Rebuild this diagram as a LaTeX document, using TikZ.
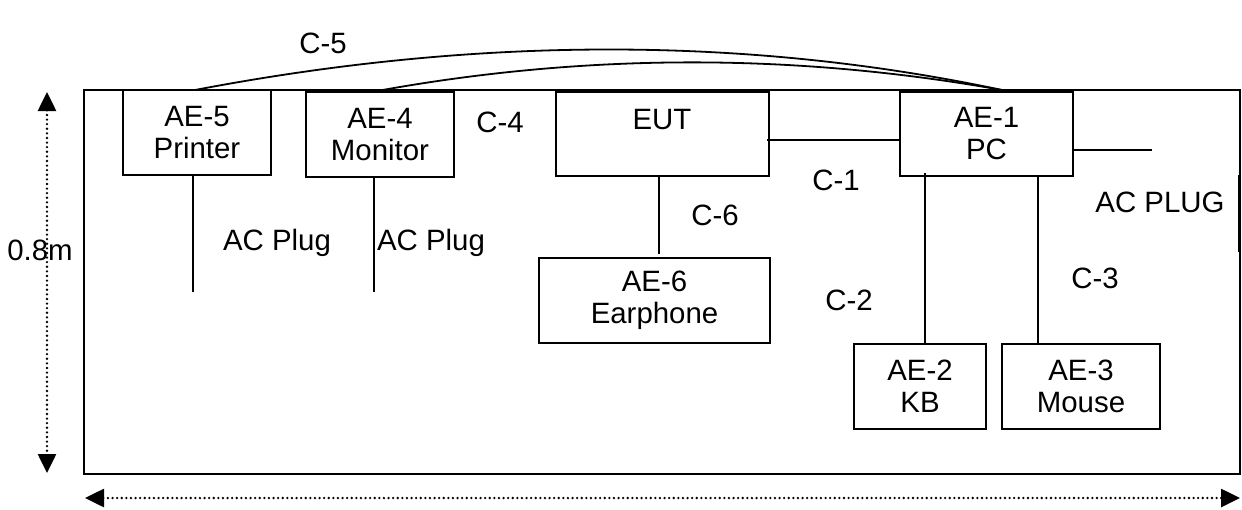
\documentclass[tikz,border=0pt]{standalone}
\usepackage{fontspec}
\setmainfont{Liberation Sans}
\usetikzlibrary{arrows.meta}
\begin{document}
\begin{tikzpicture}[x=0.5pt,y=-0.5pt,
  every node/.style={font=\fontsize{14.7}{16}\selectfont, inner sep=0pt},
  box/.style={draw, line width=1pt, align=center},
  wire/.style={line width=0.65pt},
  lbl/.style={align=center},
  tip/.style={},
  dimline/.style={line width=1.3pt, dash pattern=on 0pt off 2.3pt, line cap=round,
     {Triangle[length=9.5pt,width=9pt,line cap=butt]}-{Triangle[length=9.5pt,width=9pt,line cap=butt]}}]
\useasboundingbox (0,0) rectangle (1242,509);
% frame
\draw[line width=1pt] (84,90) rectangle (1240,474);
% boxes
\node[box, minimum width=74pt, minimum height=42.5pt] (AE5) at (197,132.5) {AE-5\\Printer};
\node[box, minimum width=74pt, minimum height=42.5pt] (AE4) at (380,134.5) {AE-4\\Monitor};
\node[box, minimum width=106.5pt, minimum height=42pt] (EUT) at (662.5,134) {};
\node[lbl] (EUTt) at (662,120) {EUT};
\node[box, minimum width=86.5pt, minimum height=42pt] (AE1) at (986.5,134) {AE-1\\PC};
\node[box, minimum width=115.5pt, minimum height=42.5pt] (AE6) at (654.5,300.5) {AE-6\\Earphone};
\node[box, minimum width=66pt, minimum height=42.5pt] (AE2) at (920,386.5) {AE-2\\KB};
\node[box, minimum width=79pt, minimum height=42.5pt] (AE3) at (1081,386.5) {AE-3\\Mouse};
% free ends
\coordinate (p5) at (193,292);
\coordinate (p4) at (374,292);
\coordinate (acR) at (1152,150);
\coordinate (c6) at (659,254);
\coordinate (kb) at (925,173);
\coordinate (ms) at (1038,176);
\coordinate (a5) at (195,90);
\coordinate (a4) at (377,91);
\coordinate (a1) at (1002,90);
\coordinate (rp1) at (1239,175);
\coordinate (rp2) at (1239,252);
% connectors
\draw[wire] ([yshift=-3pt,xshift=-1.5pt]EUT.east) -- ([yshift=-3pt]AE1.west);
\draw[wire] ([yshift=-8pt]AE1.east) -- (acR);
\draw[wire] (AE5.south -| p5) -- (p5);
\draw[wire] (AE4.south -| p4) -- (p4);
\draw[wire] (EUT.south -| c6) -- (c6);
\draw[wire] (kb) -- (AE2.north -| kb);
\draw[wire] (ms) -- (AE3.north -| ms);
\draw[wire] (rp1) -- (rp2);
\draw[line width=0.9pt] (a5) .. controls (478,36) and (747,36) .. (a1);
\draw[line width=0.9pt] (a4) .. controls (586,53) and (794,53) .. (a1);
% labels
\node (C5) at (323,43) {C-5};
\node (C4) at (500,122) {C-4};
\node (C1) at (836,180) {C-1};
\node (C6) at (715,215) {C-6};
\node (C2) at (849,300) {C-2};
\node (C3) at (1095,278) {C-3};
\node (acp1) at (277,243) {AC Plug};
\node (acp2) at (431,243) {AC Plug};
\node (acp3) at (1160,202) {AC PLUG};
% dimensions
\coordinate (v1) at (47,92);
\coordinate (v2) at (47,473);
\coordinate (h1) at (85,498);
\coordinate (h2) at (1240,498);
\draw[dimline] (v1) -- (v2);
\draw[dimline] (h1) -- (h2);
\node (dim) at (40,250) {0.8m};
\end{tikzpicture}
\end{document}
